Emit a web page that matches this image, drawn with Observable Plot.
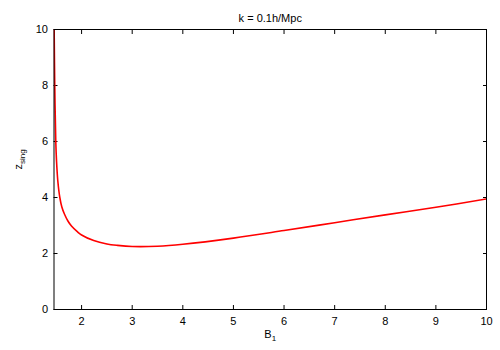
<!DOCTYPE html>
<html>
<head>
<meta charset="utf-8">
<script src="https://cdn.jsdelivr.net/npm/d3@7"></script>
<script src="https://cdn.jsdelivr.net/npm/@observablehq/plot@0.6"></script>
<style>
  html, body { margin: 0; padding: 0; background: #fff; }
  #chart svg { display: block; }
</style>
</head>
<body>
<div id="chart"></div>
<script>
// Data
const b1Values    = [1.458, 1.47, 1.49, 1.505, 1.53, 1.57, 1.61, 1.663, 1.73, 1.80, 1.915, 2.0, 2.24, 2.5, 2.71, 3.0, 3.5, 4.0, 5.0, 6.0, 7.0, 8.0, 9.0, 10.0];
const zsingValues = [10.0, 8.0, 6.0, 5.3, 4.6, 4.0, 3.66, 3.40, 3.16, 2.98, 2.78, 2.66, 2.46, 2.34, 2.29, 2.25, 2.26, 2.33, 2.55, 2.82, 3.10, 3.38, 3.65, 3.95];
const xTicks = [2, 3, 4, 5, 6, 7, 8, 9, 10];
const yTicks = [0, 2, 4, 6, 8, 10];
const titleText = "k = 0.1h/Mpc";
const xLabel = {base: "B", sub: "1"};
const yLabel = {base: "z", sub: "sing"};

const data = b1Values.map((x, i) => ({x, y: zsingValues[i]}));
const blank = () => "";

const plot = Plot.plot({
  width: 500,
  height: 350,
  marginLeft: 53.5,
  marginRight: 14,
  marginTop: 29,
  marginBottom: 41,
  style: {fontFamily: "'Liberation Sans', Arial, sans-serif", fontSize: "11px", color: "#000", background: "#fff"},
  x: {domain: [1.455, 10]},
  y: {domain: [0, 10]},
  marks: [
    Plot.axisX(xTicks, {anchor: "bottom", tickSize: 0, tickPadding: 8, label: null, fontSize: 11}),
    Plot.axisX(xTicks, {anchor: "bottom", tickSize: -4, tickFormat: blank, label: null}),
    Plot.axisX(xTicks, {anchor: "top", tickSize: -4, tickFormat: blank, label: null}),
    Plot.axisY(yTicks, {anchor: "left", tickSize: 0, tickPadding: 6, label: null, fontSize: 11}),
    Plot.axisY(yTicks, {anchor: "left", tickSize: -4, tickFormat: blank, label: null}),
    Plot.axisY(yTicks, {anchor: "right", tickSize: -4, tickFormat: blank, label: null}),
    Plot.line(data, {x: "x", y: "y", stroke: "#ff0000", strokeWidth: 1.6, curve: "catmull-rom", clip: true}),
    Plot.frame({stroke: "#000", strokeWidth: 1}),
    Plot.text([titleText], {frameAnchor: "top", dy: -15, text: d => d, fontSize: 11, fill: "#000"}),
    Plot.text([xLabel.base + xLabel.sub], {frameAnchor: "bottom", dy: 28, dx: 0, text: d => d, fontSize: 11, fill: "#000", className: "xlab"}),
    Plot.text([yLabel.base + yLabel.sub], {frameAnchor: "left", dx: -36, rotate: -90, text: d => d, fontSize: 11, fill: "#000", className: "ylab"})
  ]
});

// Subscripts for axis labels
function subscript(cls, lab) {
  d3.select(plot).selectAll(`g.${cls} text`).each(function() {
    const t = d3.select(this);
    t.text(null);
    t.append("tspan").text(lab.base);
    t.append("tspan").attr("dy", "3").attr("font-size", "8px").text(lab.sub);
  });
}
subscript("xlab", xLabel);
subscript("ylab", yLabel);

document.getElementById("chart").appendChild(plot);
</script>
</body>
</html>
